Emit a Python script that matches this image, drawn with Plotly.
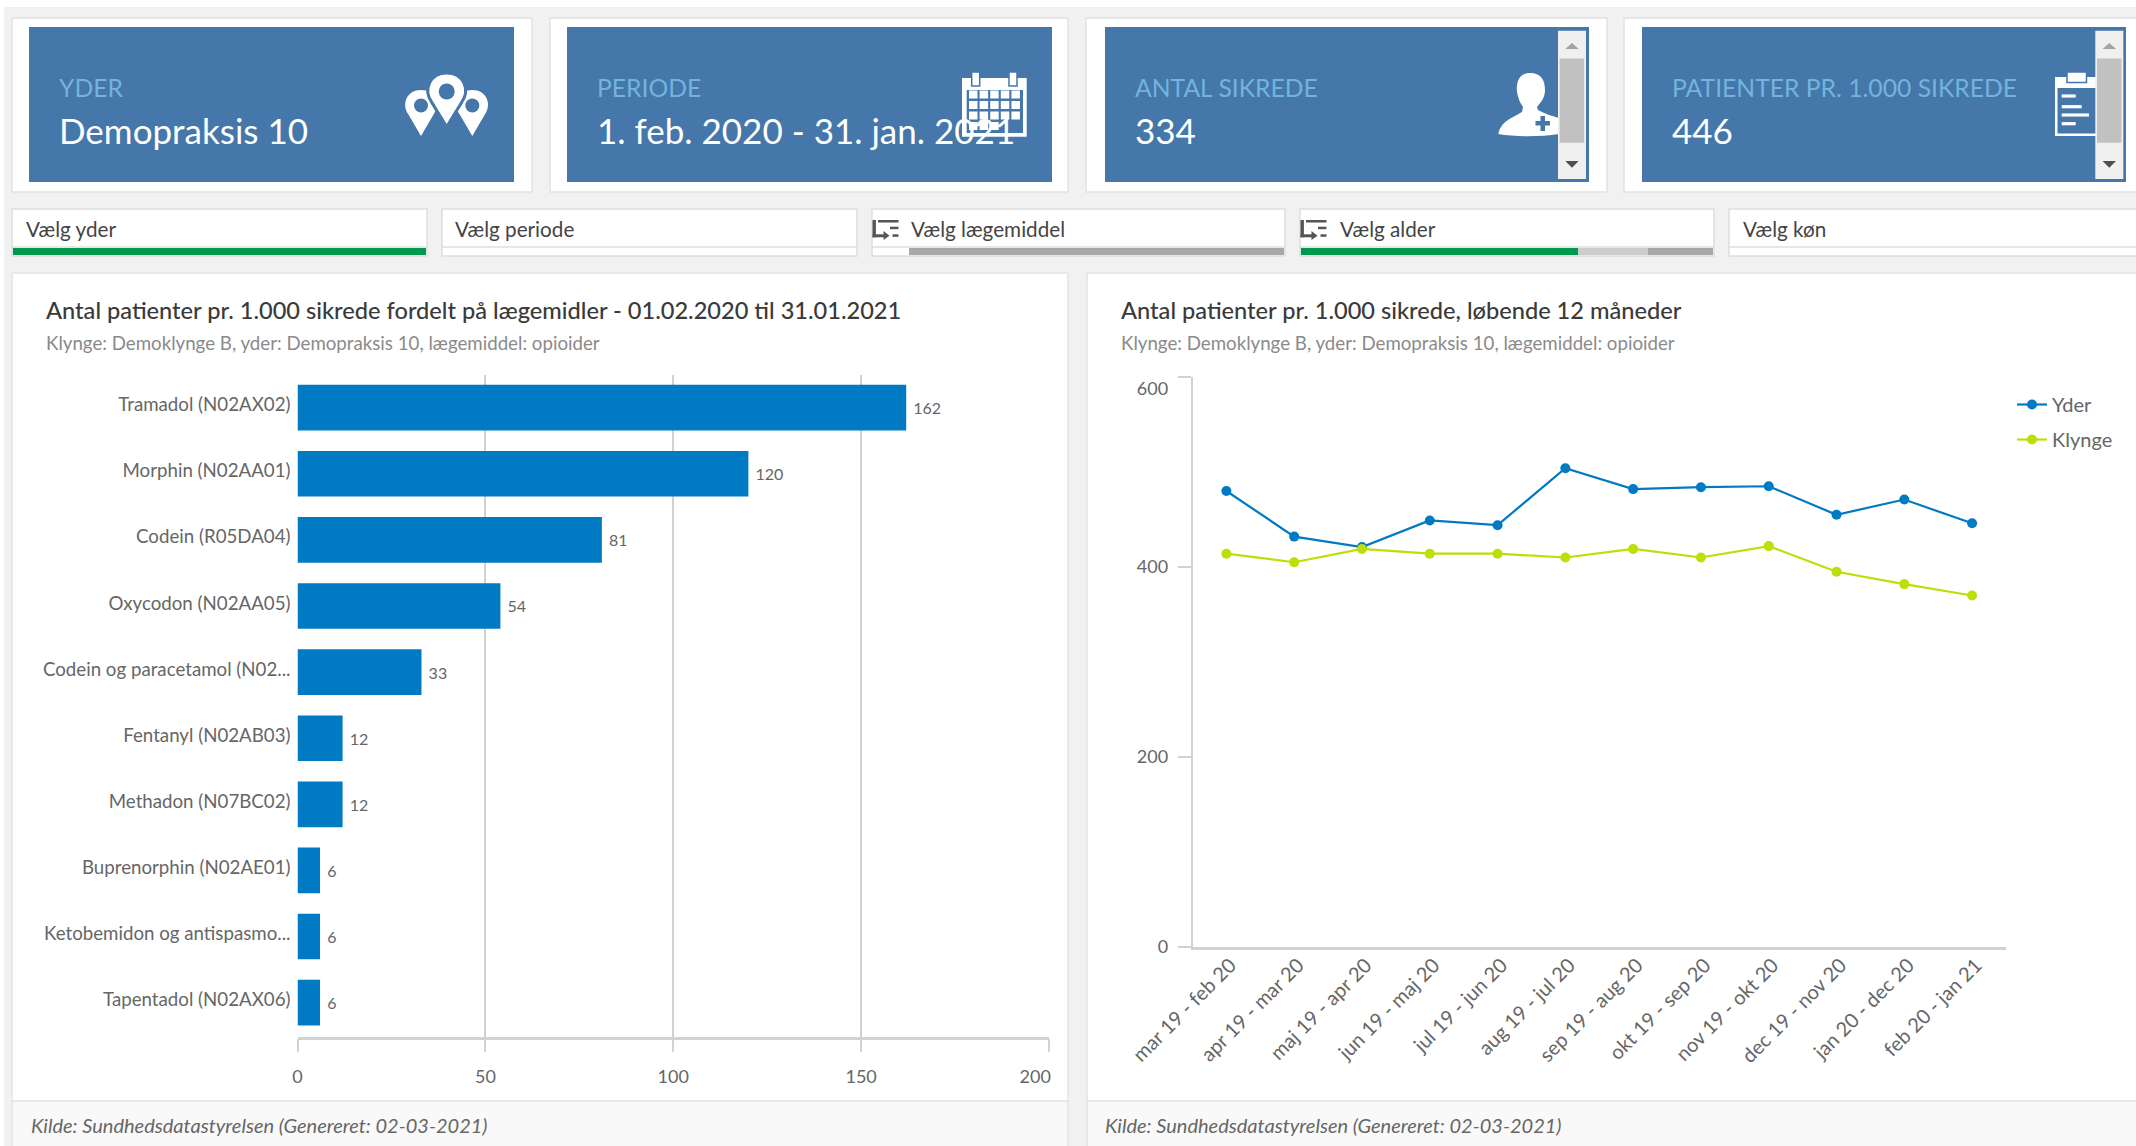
import re
import plotly.graph_objects as go

W, H = 2136, 1146
FONT = "Lato"

drug_labels = ["Tramadol (N02AX02)", "Morphin (N02AA01)", "Codein (R05DA04)", "Oxycodon (N02AA05)",
               "Codein og paracetamol (N02...", "Fentanyl (N02AB03)", "Methadon (N07BC02)",
               "Buprenorphin (N02AE01)", "Ketobemidon og antispasmo...", "Tapentadol (N02AX06)"]
drug_values = [162, 120, 81, 54, 33, 12, 12, 6, 6, 6]
bar_ticks = [0, 50, 100, 150, 200]
bar_tick_text = ["0", "50", "100", "150", "200\u00a0\u00a0\u00a0\u00a0\u00a0\u00a0"]

periods = ["mar 19 - feb 20", "apr 19 - mar 20", "maj 19 - apr 20", "jun 19 - maj 20", "jul 19 - jun 20",
           "aug 19 - jul 20", "sep 19 - aug 20", "okt 19 - sep 20", "nov 19 - okt 20", "dec 19 - nov 20",
           "jan 20 - dec 20", "feb 20 - jan 21"]
yder = [480, 432, 421, 449, 444, 504, 482, 484, 485, 455, 471, 446]
klynge = [414, 405, 419, 414, 414, 410, 419, 410, 422, 395, 382, 370]
line_ticks = [0, 200, 400, 600]
line_tick_text = ["0", "200", "400", "<br>600"]

BLUE, GREEN = "#007ac3", "#bfdd06"
CARD, CARD_LBL = "#4577aa", "#72b4dc"
GRID = "#d2d2d2"
TXT = "#3e3e3e"
TICK = "#666666"
ICON = "#555555"


def px(x): return x / W
def py(y): return 1 - y / H


shapes, ann = [], []


def rect(x0, y0, x1, y1, fill, line=None, lw=1):
    shapes.append(dict(type="rect", xref="paper", yref="paper", x0=px(x0), x1=px(x1), y0=py(y0), y1=py(y1),
                       fillcolor=fill, line=dict(color=line or "rgba(0,0,0,0)", width=lw if line else 0), layer="below"))


def path(d, fill="white", line=None, lw=0):
    toks = re.findall(r"[MLCZ]|-?\d+\.?\d*", d)
    out = []
    isx = True
    for t in toks:
        if t in "MLCZ":
            out.append(t)
        else:
            out.append(f"{px(float(t)) if isx else py(float(t)):.6f}")
            isx = not isx
    shapes.append(dict(type="path", xref="paper", yref="paper", path=" ".join(out), fillcolor=fill,
                       line=dict(color=line or "rgba(0,0,0,0)", width=lw), layer="below"))


def circ(cx, cy, r, fill):
    shapes.append(dict(type="circle", xref="paper", yref="paper", x0=px(cx - r), x1=px(cx + r), y0=py(cy + r), y1=py(cy - r),
                       fillcolor=fill, line=dict(width=0), layer="below"))


def text(x, y, s, size, color=TXT, anchor="left", italic=False, weight=400):
    ann.append(dict(xref="paper", yref="paper", x=px(x), y=py(y), text=f"<i>{s}</i>" if italic else s, showarrow=False,
                    xanchor=anchor, yanchor="middle", borderpad=0, borderwidth=0,
                    font=dict(family=FONT, size=size, color=color, weight=weight)))


# page background
rect(4, 7, W, H, "#f1f1f1")

# KPI cards
cards = [(12, 532, 29, 514), (550, 1068, 567, 1052), (1086, 1607, 1105, 1589), (1624, W + 5, 1642, 2126)]
card_lbl = ["YDER", "PERIODE", "ANTAL SIKREDE", "PATIENTER PR. 1.000 SIKREDE"]
card_val = ["Demopraksis 10", "1. feb. 2020 - 31. jan. 2021", "334", "446"]
for (ox0, ox1, ix0, ix1), l, v in zip(cards, card_lbl, card_val):
    rect(ox0, 18, ox1, 192, "white", "#e2e2e2", 1.5)
    rect(ix0, 27, ix1, 182, CARD)
    text(ix0 + 29.5, 87.5, l, 24.7, CARD_LBL)
    text(ix0 + 29.5, 130, v, 35, "white")


# pin icons
def pin(cx, top, tip, r, hole, outline=None):
    cy = top + r
    path(f"M {cx} {tip} L {cx-.8*r} {cy+.6*r} C {cx-1.3*r} {cy-.1*r} {cx-.9*r} {cy-r} {cx} {cy-r} "
         f"C {cx+.9*r} {cy-r} {cx+1.3*r} {cy-.1*r} {cx+.8*r} {cy+.6*r} Z", line=outline, lw=3 if outline else 0)
    circ(cx, cy, hole, CARD)


pin(421, 90, 136, 15.5, 7)
pin(472.3, 90, 136, 15.5, 7)
pin(446.7, 73, 126.7, 18.5, 8, outline=CARD)

# calendar icon
rect(962, 78, 1026.7, 136.7, "white")
rect(966.7, 90, 1023, 133, CARD)
for r in range(4):
    for c in range(5):
        if (r, c) not in ((3, 3), (3, 4)):
            rect(969 + c * 10.6, 90.5 + r * 10.5, 977.5 + c * 10.6, 98.5 + r * 10.5, "white")
for cx in (975.7, 1013):
    rect(cx - 4, 72, cx + 4, 86, "white", CARD, 1.5)

# user icon (runs under the scrollbar)
path("M 1530 73 C 1519 73 1516 82 1517 92 C 1518 98 1520 103 1523 107 L 1522 112 C 1512 118 1501 121 1498.3 134 "
     "C 1515 137 1540 137 1559 134 L 1559 118 C 1552 116 1543 113 1538 110 L 1537 107 C 1541 102 1545 98 1545 90 C 1545 80 1541 73 1530 73 Z")
rect(1540.5, 116, 1545, 131, CARD)
rect(1535.5, 121, 1550, 125.5, CARD)

# clipboard icon
rect(2055, 77, 2096, 136, "white")
rect(2057.5, 88, 2096, 133.5, CARD)
rect(2067, 72, 2086.5, 82.5, "white", CARD, 1.5)
for y0, x1 in [(96, 2075.7), (106.7, 2081.7), (115, 2089), (123.7, 2075.7)]:
    rect(2061.7, y0 - 1.6, x1, y0 + 1.6, "white")

# scrollbars in the two right cards
for sx in (1558, 2095.3):
    rect(sx, 30.7, sx + 28, 179, "#f0f0f0")
    rect(sx + 1.7, 58.5, sx + 26.2, 142.7, "#c1c1c1")
    m = sx + 14
    path(f"M {m-6.7} 49 L {m+6.7} 49 L {m} 43 Z", fill="#a3a3a3")
    path(f"M {m-6.7} 161 L {m+6.7} 161 L {m} 167.7 Z", fill="#505050")

# filters
filters = [(12, 427, 26, "Vælg yder", False), (442, 857, 455, "Vælg periode", False), (872, 1285, 911, "Vælg lægemiddel", True),
           (1300, 1714, 1340, "Vælg alder", True), (1729, W + 5, 1743, "Vælg køn", False)]
for x0, x1, tx, s, icon in filters:
    rect(x0, 209, x1, 256, "white", "#dedede", 1.5)
    rect(x0, 246.5, x1, 247.5, "#d0d0d0")
    text(tx, 229, s, 20.7, "#444444")
    if icon:
        ix = x0 + 0.5
        rect(ix, 220, ix + 3.4, 237.3, ICON)
        rect(ix, 234.3, ix + 12, 237.3, ICON)
        path(f"M {ix+11} 231 L {ix+11} 240 L {ix+17} 235.7 Z", fill=ICON)
        rect(ix + 5.5, 220, ix + 26, 222.5, ICON)
        rect(ix + 17.5, 226.7, ix + 26, 229.2, ICON)
        rect(ix + 20, 234.3, ix + 26, 236.8, ICON)
rect(13, 248, 426, 255, "#00984a")
rect(909, 248, 1284, 255, "#a8a8a8")
rect(1301, 248, 1578, 255, "#00984a")
rect(1578, 248, 1648, 255, "#cccccc")
rect(1648, 248, 1713, 255, "#a8a8a8")

# chart panels
for x0, x1 in [(12, 1068), (1087, W + 5)]:
    rect(x0, 273, x1, 1101, "white", "#e4e4e4", 1.5)
    rect(x0, 1101, x1, H + 5, "#f9f9f9", "#e4e4e4", 1.5)

TITLE_SIZE, SUB_SIZE, FOOT_SIZE = 23.6, 18.7, 20
text(46, 310, "Antal patienter pr. 1.000 sikrede fordelt på lægemidler - 01.02.2020 til 31.01.2021", TITLE_SIZE, "#3a3a3a", weight=500)
text(46, 343, "Klynge: Demoklynge B, yder: Demopraksis 10, lægemiddel: opioider", SUB_SIZE, "#8a8a8a")
text(1121, 310, "Antal patienter pr. 1.000 sikrede, løbende 12 måneder", TITLE_SIZE, "#3a3a3a", weight=500)
text(1121, 343, "Klynge: Demoklynge B, yder: Demopraksis 10, lægemiddel: opioider", SUB_SIZE, "#8a8a8a")
text(31, 1125, "Kilde: Sundhedsdatastyrelsen (Genereret: 02-03-2021)", FOOT_SIZE, "#666666", italic=True)
text(1105, 1125, "Kilde: Sundhedsdatastyrelsen (Genereret: 02-03-2021)", FOOT_SIZE, "#666666", italic=True)

fig = go.Figure()
fig.add_trace(go.Bar(x=drug_values, y=drug_labels, orientation="h", marker=dict(color=BLUE, line=dict(width=0)),
                     texttemplate="\u00a0%{x}", textposition="outside", cliponaxis=False, showlegend=False,
                     textfont=dict(family=FONT, size=16, color=TICK), xaxis="x", yaxis="y", width=0.69))
for name, vals, col in [("Yder", yder, BLUE), ("Klynge", klynge, GREEN)]:
    fig.add_trace(go.Scatter(x=periods, y=vals, name=name, mode="lines+markers", legendgroup=name,
                             line=dict(color=col, width=2.2), marker=dict(color=col, size=10),
                             xaxis="x2", yaxis="y2"))

axfont = dict(family=FONT, size=18, color=TICK)
catfont = dict(family=FONT, size=18.7, color=TICK)
periodfont = dict(family=FONT, size=20, color=TICK)
fig.update_layout(
    width=W, height=H, autosize=False, margin=dict(l=0, r=0, t=0, b=0, pad=0, autoexpand=False),
    paper_bgcolor="white", plot_bgcolor="rgba(0,0,0,0)",
    shapes=shapes, annotations=ann, hovermode=False,
    xaxis=dict(domain=[px(297.5), px(1049)], range=[0, 200], tickmode="array", tickvals=bar_ticks, ticktext=bar_tick_text,
               showgrid=True, gridcolor=GRID, gridwidth=1.5, ticks="outside", ticklen=13, tickcolor=GRID, tickwidth=1.5,
               showline=True, linecolor=GRID, linewidth=2.5, tickfont=axfont, zeroline=False, tickangle=0,
               ticklabelstandoff=9, anchor="y", fixedrange=True),
    yaxis=dict(domain=[py(1036.7), py(374.6)], range=[9.515, -0.5], type="category", categoryorder="array", categoryarray=drug_labels,
               showgrid=False, ticks="", tickfont=catfont, showline=False, zeroline=False, ticklabelstandoff=6,
               ticklabelshift=3, anchor="x", fixedrange=True),
    xaxis2=dict(domain=[px(1192.5), px(2006)], range=[-0.5, 11.5], type="category", categoryorder="array", categoryarray=periods,
                showgrid=False, ticks="", tickangle=-45, tickfont=periodfont, showline=True, linecolor=GRID, linewidth=2.5,
                ticklabelstandoff=-4, ticklabelshift=4, zeroline=False, anchor="y2", fixedrange=True),
    yaxis2=dict(domain=[py(947), py(377)], range=[0, 600], tickmode="array", tickvals=line_ticks, ticktext=line_tick_text,
                showgrid=False, ticks="outside", ticklen=13, tickcolor=GRID, tickwidth=1.5, showline=True, linecolor=GRID, linewidth=1.5,
                zeroline=False, tickfont=axfont, ticklabelstandoff=6, anchor="x2", fixedrange=True),
    legend=dict(x=px(2012), y=py(385), xanchor="left", yanchor="top", bgcolor="rgba(0,0,0,0)", tracegroupgap=6,
                font=dict(family=FONT, size=20, color=TICK), itemwidth=30),
    bargap=0.31,
)
fig.write_html("out.html", post_script="document.body.style.margin='0';document.body.style.overflow='hidden';",
               config=dict(displayModeBar=False))
